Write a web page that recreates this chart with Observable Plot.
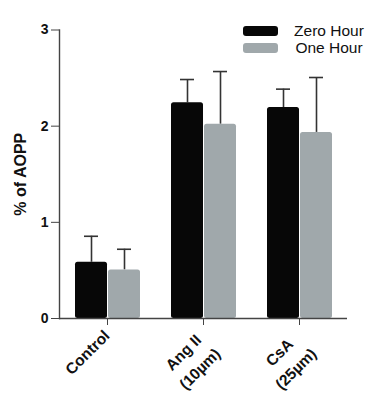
<!DOCTYPE html>
<html>
<head>
<meta charset="utf-8">
<script src="https://cdn.jsdelivr.net/npm/d3@7"></script>
<script src="https://cdn.jsdelivr.net/npm/@observablehq/plot@0.6"></script>
<style>
  html, body { margin: 0; padding: 0; background: #fff; }
  #wrap { position: relative; width: 385px; height: 412px; font-family: Arial, "Liberation Sans", sans-serif; }
  #legend { position: absolute; left: 243px; top: 22px; font-size: 15.5px; color: #111; }
  .row { display: flex; align-items: center; height: 17.5px; }
  .sw { width: 35px; height: 10px; border-radius: 3px; margin-right: 14px; }
  .lab { width: 74px; text-align: center; }
</style>
</head>
<body>
<div id="wrap"><div id="legend"></div></div>
<script>
const categories = ["Control", "Ang II\n(10µm)", "CsA\n(25µm)"];
const series = ["Zero Hour", "One Hour"];
const zeroHour = [0.585, 2.243, 2.194];
const zeroHourErr = [0.855, 2.485, 2.385];
const oneHour = [0.505, 2.02, 1.935];
const oneHourErr = [0.72, 2.568, 2.506];
const yTicks = [0, 1, 2, 3];
const colors = ["#070707", "#a0a8ab"];

const data = [];
categories.forEach((c, i) => {
  data.push({cat: c, series: series[0], value: zeroHour[i], upper: zeroHourErr[i]});
  data.push({cat: c, series: series[1], value: oneHour[i], upper: oneHourErr[i]});
});

const font = "Arial, 'Liberation Sans', sans-serif";

const chart = Plot.plot({
  width: 385,
  height: 412,
  marginLeft: 58,
  marginRight: 38,
  marginTop: 29.5,
  marginBottom: 94,
  style: {fontFamily: font, background: "#fff", color: "#111"},
  fx: {domain: categories, padding: 0, label: null, axis: null},
  x: {domain: series, paddingInner: 0.04, paddingOuter: 0.445, axis: null},
  y: {domain: [0, 3], axis: null},
  color: {domain: series, range: colors},
  marks: [
    Plot.ruleX(data, {fx: "cat", x: "series", y1: "value", y2: "upper", stroke: "#333", strokeWidth: 1.6}),
    Plot.tickY(data, {fx: "cat", x: "series", y: "upper", stroke: "#333", strokeWidth: 1.6, insetLeft: 9, insetRight: 9}),
    Plot.barY(data, {fx: "cat", x: "series", y: "value", fill: "series", rx: 2.5}),
    Plot.ruleY([0], {stroke: "#444", strokeWidth: 1.4}),
    Plot.frame({anchor: "left", facetAnchor: "left", stroke: "#444", strokeWidth: 1.4}),
    Plot.axisY({ticks: yTicks, tickSize: 8, tickFormat: () => "", stroke: "#444", label: null}),
    Plot.text(yTicks, {y: d => d, text: d3.format("d"), frameAnchor: "left", facetAnchor: "left", textAnchor: "end", lineAnchor: "middle", dx: -11, fontSize: 14, fontWeight: "bold", fill: "#111"}),
    Plot.axisFx({anchor: "bottom", tickSize: 7, tickFormat: () => "", label: null, stroke: "#444"}),
    Plot.text(categories, {fx: d => d, text: d => d, frameAnchor: "bottom", rotate: -45, textAnchor: "middle", lineAnchor: "top", lineHeight: 1.5, dx: -28, dy: 26, fontSize: 15.5, fontWeight: "bold", fill: "#111"}),
    Plot.text(["% of AOPP"], {frameAnchor: "left", facetAnchor: "left", rotate: -90, textAnchor: "middle", lineAnchor: "middle", dx: -39, fontSize: 16, fontWeight: "bold", fill: "#111"})
  ]
});

const wrap = document.getElementById("wrap");
wrap.insertBefore(chart, wrap.firstChild);

const legend = document.getElementById("legend");
series.forEach((s, i) => {
  const row = document.createElement("div");
  row.className = "row";
  const sw = document.createElement("div");
  sw.className = "sw";
  sw.style.background = colors[i];
  const lab = document.createElement("div");
  lab.className = "lab";
  lab.textContent = s;
  row.appendChild(sw);
  row.appendChild(lab);
  legend.appendChild(row);
});
</script>
</body>
</html>
